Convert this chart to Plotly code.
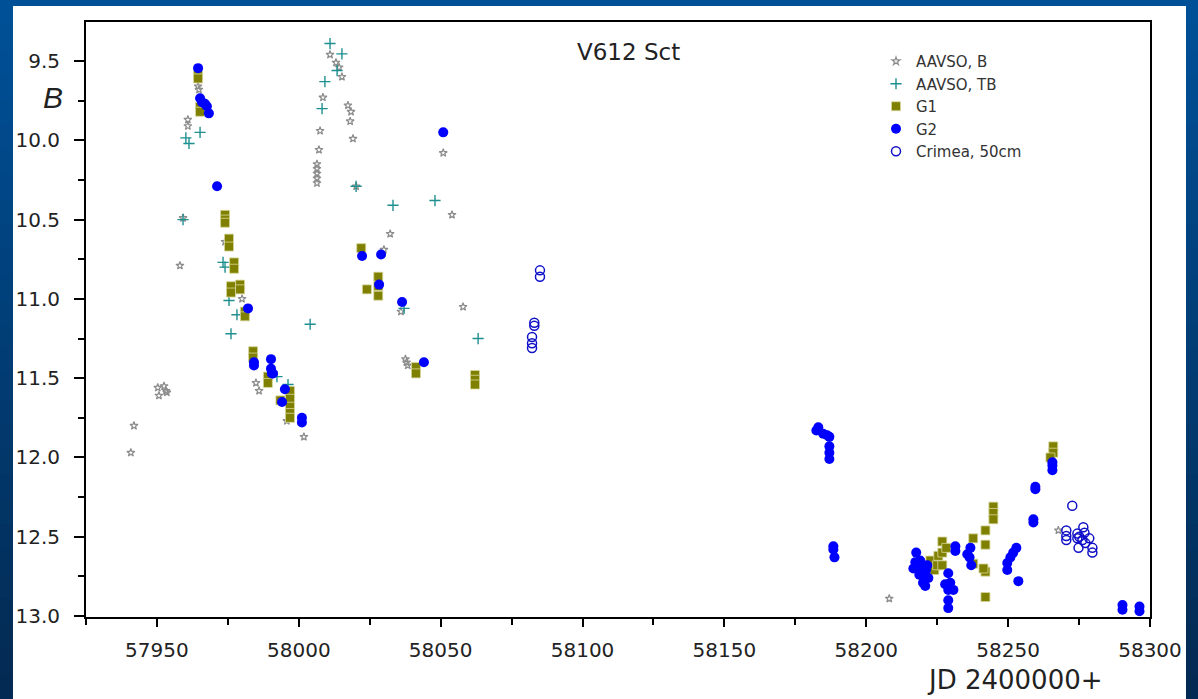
import plotly.graph_objects as go

# ---------------- data ----------------
aavso_b_jd = [57940.8, 57941.9, 57950.3, 57950.7, 57952.5, 57953.2, 57953.5, 57958.1, 57959.2,
              57960.9, 57960.9, 57964.5, 57964.8, 57974.0, 57980.0, 57984.9, 57986.0, 57995.8,
              58001.8, 58011.0, 58013.1, 58014.2, 58015.2, 58008.5, 58017.3, 58018.4, 58018.1,
              58019.1, 58007.5, 58007.1, 58006.4, 58006.4, 58006.4, 58006.4, 58006.4, 58020.2,
              58050.9, 58054.0, 58032.2, 58030.0, 58036.0, 58057.9, 58037.6, 58038.0, 58038.4,
              58208.1, 58267.7]
aavso_b_mag = [11.97, 11.80, 11.56, 11.61, 11.55, 11.58, 11.59, 10.79, 10.49,
               9.87, 9.91, 9.66, 9.68, 10.64, 11.00, 11.53, 11.58, 11.77,
               11.87, 9.46, 9.51, 9.54, 9.60, 9.73, 9.78, 9.82, 9.88,
               9.99, 9.94, 10.06, 10.15, 10.18, 10.21, 10.24, 10.27, 10.29,
               10.08, 10.47, 10.59, 10.69, 11.08, 11.05, 11.38, 11.40, 11.42,
               12.89, 12.46]

aavso_tb_jd = [57960.2, 57961.3, 57965.2, 57959.2, 57973.3, 57974.0, 57975.4, 57978.2, 57976.1,
               58004.0, 57992.3, 57996.2, 58011.0, 58015.2, 58013.5, 58009.2, 58008.2, 58020.2,
               58033.2, 58048.0, 58037.1, 58063.2]
aavso_tb_mag = [9.985, 10.02, 9.95, 10.50, 10.77, 10.80, 11.01, 11.10, 11.22,
                11.16, 11.49, 11.54, 9.39, 9.455, 9.56, 9.63, 9.80, 10.29,
                10.41, 10.38, 11.06, 11.25]

g1_jd = [57964.5, 57964.5, 57965.2, 57965.2, 57974.0, 57974.0, 57974.0, 57975.4, 57975.4,
         57977.2, 57977.2, 57976.1, 57976.1, 57979.3, 57979.3, 57981.0, 57981.0, 57983.9, 57983.9,
         57989.1, 57989.1, 57996.9, 57996.9, 57996.9, 57996.9, 57996.9, 57993.5,
         58022.0, 58028.0, 58028.0, 58028.0, 58024.0, 58041.3, 58041.3, 58062.1, 58062.1, 58062.1,
         58222.6, 58224.0, 58225.0, 58225.4, 58226.8, 58226.8, 58228.2, 58226.8,
         58237.7, 58237.7, 58242.0, 58242.0, 58242.0, 58242.0, 58241.3,
         58244.8, 58244.8, 58244.8, 58265.9, 58265.9, 58264.9]
g1_mag = [9.59, 9.61, 9.79, 9.82, 10.47, 10.50, 10.52, 10.62, 10.67,
          10.77, 10.81, 10.92, 10.96, 10.91, 10.94, 11.08, 11.11, 11.33, 11.37,
          11.49, 11.53, 11.58, 11.63, 11.68, 11.72, 11.75, 11.64,
          10.68, 10.86, 10.92, 10.98, 10.94, 11.43, 11.47, 11.48, 11.51, 11.54,
          12.65, 12.71, 12.68, 12.62, 12.53, 12.60, 12.57, 12.68,
          12.51, 12.67, 12.46, 12.55, 12.72, 12.88, 12.70,
          12.31, 12.35, 12.39, 11.93, 11.97, 12.00]

g2_jd = [57964.5, 57965.2, 57965.9, 57966.9, 57967.6, 57968.3, 57971.2, 57982.1,
         57984.2, 57984.2, 57990.2, 57990.2, 57990.5, 57990.9, 57995.1, 57994.1, 58001.1, 58001.1,
         58022.3, 58029.0, 58028.3, 58036.4, 58050.9, 58044.1,
         58182.4, 58183.1, 58184.8, 58186.2, 58187.0, 58187.0, 58187.0, 58187.0,
         58188.4, 58188.4, 58188.8,
         58217.6, 58217.3, 58218.3, 58219.0, 58219.7, 58220.4, 58221.1, 58220.8, 58219.7,
         58221.9, 58221.5, 58216.6, 58218.7, 58220.0,
         58231.4, 58231.4, 58228.9, 58227.8, 58229.6, 58230.7, 58228.9, 58228.9, 58228.9,
         58236.7, 58236.4, 58237.0, 58235.6,
         58249.7, 58249.7, 58250.8, 58251.8, 58252.9, 58253.6,
         58258.9, 58258.9, 58259.6, 58259.6, 58265.6, 58265.6, 58265.6,
         58290.3, 58290.3, 58296.3, 58296.3]
g2_mag = [9.545, 9.735, 9.76, 9.77, 9.785, 9.83, 10.29, 11.06,
          11.40, 11.42, 11.38, 11.44, 11.47, 11.47, 11.57, 11.65, 11.75, 11.78,
          10.73, 10.72, 10.91, 11.02, 9.95, 11.40,
          11.83, 11.81, 11.85, 11.86, 11.87, 11.93, 11.97, 12.01,
          12.56, 12.58, 12.63,
          12.60, 12.66, 12.70, 12.65, 12.73, 12.77, 12.71, 12.81, 12.68,
          12.76, 12.68, 12.70, 12.74, 12.79,
          12.56, 12.59, 12.73, 12.80, 12.79, 12.835, 12.835, 12.90, 12.95,
          12.57, 12.63, 12.68, 12.61,
          12.665, 12.71, 12.63, 12.60, 12.57, 12.78,
          12.39, 12.41, 12.185, 12.20, 12.03, 12.05, 12.08,
          12.93, 12.96, 12.94, 12.97]

crimea_jd = [58085.0, 58085.0, 58083.0, 58083.0, 58082.2, 58082.2, 58082.2,
             58272.6, 58270.5, 58270.5, 58270.5, 58274.4, 58274.4, 58275.1, 58276.5, 58276.9,
             58276.2, 58278.6, 58274.8, 58279.7, 58279.7, 58277.2]
crimea_mag = [10.82, 10.86, 11.15, 11.17, 11.24, 11.28, 11.31,
              12.305, 12.46, 12.495, 12.52, 12.48, 12.51, 12.50, 12.44, 12.475,
              12.52, 12.51, 12.57, 12.57, 12.60, 12.54]

x_range = [57925, 58300]
y_range = [13.006, 9.254]
x_ticks = [57950, 58000, 58050, 58100, 58150, 58200, 58250, 58300]
x_tick_labels = ["57950", "58000", "58050", "58100", "58150", "58200", "58250", "58300"]
y_ticks = [9.5, 10.0, 10.5, 11.0, 11.5, 12.0, 12.5, 13.0]
y_tick_labels = ["9.5", "10.0", "10.5", "11.0", "11.5", "12.0", "12.5", "13.0"]

# ---------------- figure ----------------
W, H = 1198, 699
L, R, T, B = 86, 48, 22, 82
pw, ph = W - L - R, H - T - B


def px2x(px):
    return (px - L) / pw


def py2y(py):
    return (H - B - py) / ph


fig = go.Figure()

fig.add_trace(go.Scatter(x=aavso_b_jd, y=aavso_b_mag, mode="markers", name="AAVSO, B",
                         marker=dict(symbol="star-open", size=6, color="#8c8c8c",
                                     line=dict(width=1.2, color="#8c8c8c"))))
fig.add_trace(go.Scatter(x=aavso_tb_jd, y=aavso_tb_mag, mode="markers", name="AAVSO, TB",
                         marker=dict(symbol="cross-thin-open", size=8, color="#1f8f8f",
                                     line=dict(width=1.4, color="#1f8f8f"))))
fig.add_trace(go.Scatter(x=g1_jd, y=g1_mag, mode="markers", name="G1",
                         marker=dict(symbol="square", size=9, color="#808000",
                                     line=dict(width=0.8, color="#d8d8a0"))))
fig.add_trace(go.Scatter(x=g2_jd, y=g2_mag, mode="markers", name="G2",
                         marker=dict(symbol="circle", size=10, color="#0000ff",
                                     line=dict(width=0))))
fig.add_trace(go.Scatter(x=crimea_jd, y=crimea_mag, mode="markers", name="Crimea, 50cm",
                         marker=dict(symbol="circle-open", size=9, color="#1010c8",
                                     line=dict(width=1.5, color="#1010c8"))))

# background gradient bands + white panel
shapes = []
nb = 28
top_c = (0, 80, 152)
bot_c = (3, 42, 82)
for i in range(nb):
    t = i / (nb - 1)
    c = tuple(int(round(top_c[k] + (bot_c[k] - top_c[k]) * t)) for k in range(3))
    y0 = i * H / nb
    y1 = (i + 1) * H / nb + 1
    shapes.append(dict(type="rect", xref="paper", yref="paper", layer="below",
                       x0=px2x(-2), x1=px2x(W + 2), y0=py2y(y1), y1=py2y(y0),
                       fillcolor="rgb(%d,%d,%d)" % c, line=dict(width=0)))
shapes.append(dict(type="rect", xref="paper", yref="paper", layer="below",
                   x0=px2x(13), x1=px2x(1186), y0=py2y(H + 2), y1=py2y(6),
                   fillcolor="white", line=dict(width=0)))

fig.update_layout(
    width=W, height=H,
    margin=dict(l=L, r=R, t=T, b=B, pad=0),
    paper_bgcolor="rgb(2,60,116)",
    plot_bgcolor="white",
    showlegend=True,
    shapes=shapes,
    font=dict(family="DejaVu Sans", color="#222222"),
    legend=dict(x=px2x(876), y=py2y(45), xanchor="left", yanchor="top",
                bgcolor="rgba(0,0,0,0)", borderwidth=0,
                font=dict(family="DejaVu Sans", size=15, color="#333333"),
                tracegroupgap=0),
    annotations=[
        dict(text="V612 Sct", x=px2x(628), y=py2y(52), xref="paper", yref="paper",
             showarrow=False, xanchor="center", yanchor="middle",
             font=dict(family="DejaVu Sans", size=23, color="#222222")),
        dict(text="<i>B</i>", x=px2x(53), y=py2y(97), xref="paper", yref="paper",
             showarrow=False, xanchor="center", yanchor="middle",
             font=dict(family="Liberation Sans", size=30, color="#222222")),
        dict(text="JD 2400000+", x=px2x(1015), y=py2y(680), xref="paper", yref="paper",
             showarrow=False, xanchor="center", yanchor="middle",
             font=dict(family="DejaVu Sans", size=26, color="#222222")),
    ],
)

fig.update_xaxes(range=x_range, showgrid=False, zeroline=False,
                 showline=True, linecolor="black", linewidth=2, mirror=True,
                 tickmode="array", tickvals=x_ticks, ticktext=x_tick_labels,
                 ticks="outside", ticklen=8,
                 tickwidth=2, tickcolor="black", ticklabelstandoff=6,
                 tickfont=dict(family="DejaVu Sans", size=20, color="#222222"),
                 minor=dict(dtick=25, tick0=57925, ticks="outside", ticklen=6, tickwidth=2,
                            tickcolor="black", showgrid=False))
fig.update_yaxes(range=y_range, showgrid=False, zeroline=False,
                 showline=True, linecolor="black", linewidth=2, mirror=True,
                 tickmode="array", tickvals=y_ticks, ticktext=y_tick_labels,
                 ticks="outside", ticklen=10, tickwidth=2, tickcolor="black",
                 ticklabelstandoff=10,
                 tickfont=dict(family="DejaVu Sans", size=20, color="#222222"),
                 minor=dict(dtick=0.25, tick0=9.25, ticks="outside", ticklen=6, tickwidth=2,
                            tickcolor="black", showgrid=False))

fig.write_html("out.html", config={"displayModeBar": False},
               post_script="document.body.style.margin='0';document.body.style.overflow='hidden';")
